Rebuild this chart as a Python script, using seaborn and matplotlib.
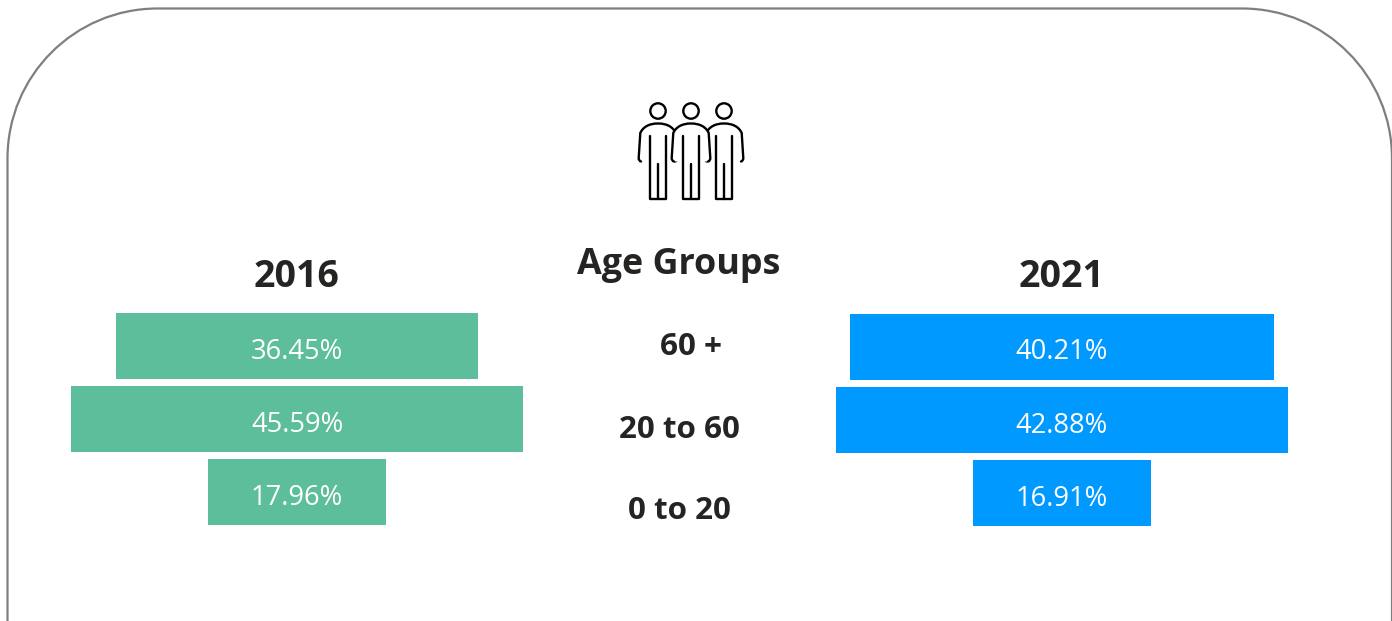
import matplotlib
matplotlib.use('Agg')
import matplotlib.pyplot as plt
import seaborn as sns
from matplotlib.patches import Circle, PathPatch
from matplotlib.path import Path

age_groups = ['60 +', '20 to 60', '0 to 20']
share_2016 = [36.45, 45.59, 17.96]
share_2021 = [40.21, 42.88, 16.91]
W, H = 1392, 621

sns.set_theme(style='white')
plt.rcParams['font.family'] = ['Open Sans', 'DejaVu Sans']

fig = plt.figure(figsize=(W / 100, H / 100), dpi=100, facecolor='white')

# background layer in pixel coords, for the frame, icon and middle labels
bg = fig.add_axes([0, 0, 1, 1])
bg.set_xlim(0, W)
bg.set_ylim(H, 0)
bg.axis('off')

# rounded card, runs off the bottom of the picture
left, top, right, r = 7.5, 8.5, 1392, 150
k = r * 0.5523
frame_verts = [(left, 700), (left, top + r), (left, top + r - k), (left + r - k, top), (left + r, top),
               (right - r, top), (right - r + k, top), (right, top + r - k), (right, top + r), (right, 700)]
frame_codes = [Path.MOVETO, Path.LINETO, Path.CURVE4, Path.CURVE4, Path.CURVE4,
               Path.LINETO, Path.CURVE4, Path.CURVE4, Path.CURVE4, Path.LINETO]
bg.add_patch(PathPatch(Path(frame_verts, frame_codes), fc='white', ec='#7f7f7f', lw=1.6))


def person(cx, zorder):
    verts = [(cx - 17, 161.5), (cx - 19.3, 161), (cx - 19.3, 158), (cx - 17.7, 133),
             (cx - 15, 127), (cx - 9, 123.5), (cx, 123.5), (cx + 9, 123.5), (cx + 15, 127), (cx + 17.7, 133),
             (cx + 19.3, 158), (cx + 19.3, 161), (cx + 17, 161.5)]
    codes = [Path.MOVETO, Path.CURVE3, Path.CURVE3, Path.LINETO,
             Path.CURVE4, Path.CURVE4, Path.CURVE4, Path.CURVE4, Path.CURVE4, Path.CURVE4,
             Path.LINETO, Path.CURVE3, Path.CURVE3]
    bg.add_patch(PathPatch(Path(verts, codes), fc='white', ec='black', lw=1.7, zorder=zorder, capstyle='round'))
    bg.add_patch(Circle((cx, 111), 7.7, fc='white', ec='black', lw=1.7, zorder=zorder))
    bg.plot([cx - 8.3, cx - 8.3, cx + 8.3, cx + 8.3], [136, 199.3, 199.3, 136], color='black', lw=1.7, zorder=zorder)
    bg.plot([cx, cx], [164, 199.3], color='black', lw=1.7, zorder=zorder)


person(658, 3)
person(724, 3)
person(691, 4)

bg.text(679, 265, 'Age Groups', ha='center', va='center', fontsize=25.8, fontweight='bold', color='#252423')
label_x = [691, 679, 679]
label_y = [347, 430, 511]
for name, lx, ly in zip(age_groups, label_x, label_y):
    bg.text(lx, ly, name, ha='center', va='center', fontsize=22.6, fontweight='bold', color='#252423')


def funnel(values, title, color, x0, x1, y0, y1):
    ax = fig.add_axes([x0 / W, 1 - y1 / H, (x1 - x0) / W, (y1 - y0) / H])
    ax.patch.set_alpha(0)
    sns.barplot(x=values, y=age_groups, color=color, saturation=1, width=0.904, linewidth=0, ax=ax)
    half = max(values) / 2
    # funnel: centre every bar on zero
    for bar in ax.patches:
        bar.set_x(-bar.get_width() / 2)
    ax.set_xlim(-half, half)
    ax.set_ylim(2.5, -0.5)
    labels = ax.bar_label(ax.containers[0], labels=[f'{v:.2f}%' for v in values], label_type='center',
                          color='white', fontsize=19.7)
    for txt in labels:
        txt.xyann = (0, -4)
    ax.set_xlabel('')
    ax.set_ylabel('')
    ax.set_xticks([])
    ax.set_yticks([])
    sns.despine(ax=ax, left=True, bottom=True)
    bg.text((x0 + x1) / 2, 277, title, ha='center', va='center', fontsize=27, fontweight='bold', color='#252423')
    return ax


funnel(share_2016, '2016', '#5DBE9B', 71, 523, 309.5, 528.5)
funnel(share_2021, '2021', '#0099FF', 836, 1288, 310, 530)

fig.savefig('out.png', dpi=100)
